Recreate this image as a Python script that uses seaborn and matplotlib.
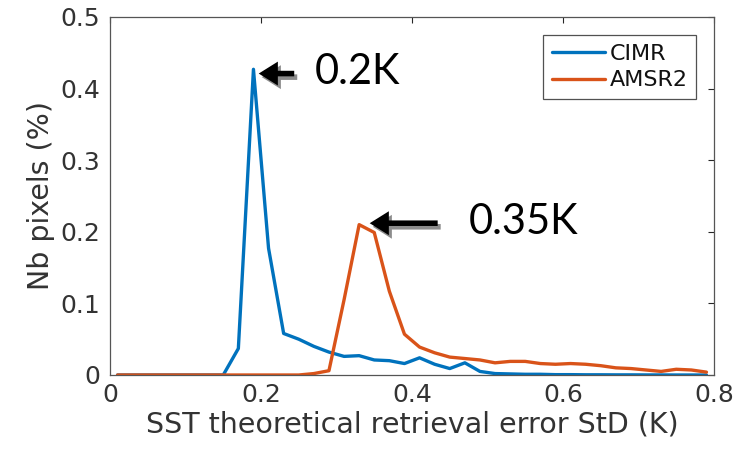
import matplotlib
matplotlib.use("Agg")
import matplotlib.pyplot as plt
import seaborn as sns
import pandas as pd

# ---- data ----
x_vals = [0.01, 0.03, 0.05, 0.07, 0.09, 0.11, 0.13, 0.15, 0.17, 0.19,
          0.21, 0.23, 0.25, 0.27, 0.29, 0.31, 0.33, 0.35, 0.37, 0.39,
          0.41, 0.43, 0.45, 0.47, 0.49, 0.51, 0.53, 0.55, 0.57, 0.59,
          0.61, 0.63, 0.65, 0.67, 0.69, 0.71, 0.73, 0.75, 0.77, 0.79]
cimr = [0, 0, 0, 0, 0, 0, 0, 0, 0.037, 0.427,
        0.177, 0.058, 0.050, 0.040, 0.032, 0.026, 0.027, 0.021, 0.020, 0.016,
        0.024, 0.015, 0.009, 0.017, 0.005, 0.002, 0.0015, 0.001, 0.001, 0.0005,
        0.0005, 0.0003, 0.0003, 0.0002, 0.0002, 0.0001, 0.0001, 0, 0, 0]
amsr2 = [0, 0, 0, 0, 0, 0, 0, 0, 0, 0,
         0, 0, 0, 0.002, 0.006, 0.105, 0.210, 0.199, 0.117, 0.057,
         0.039, 0.031, 0.025, 0.023, 0.021, 0.017, 0.019, 0.019, 0.016, 0.015,
         0.016, 0.015, 0.013, 0.010, 0.009, 0.007, 0.005, 0.008, 0.007, 0.004]
series_names = ["CIMR", "AMSR2"]
series_colors = ["#0072BD", "#D95319"]
x_ticks = [0, 0.2, 0.4, 0.6, 0.8]
x_tick_labels = ["0", "0.2", "0.4", "0.6", "0.8"]
y_ticks = [0, 0.1, 0.2, 0.3, 0.4, 0.5]
y_tick_labels = ["0", "0.1", "0.2", "0.3", "0.4", "0.5"]
x_label = "SST theoretical retrieval error StD (K)"
y_label = "Nb pixels (%)"
annotations = [("0.2K", 0.19, 0.427), ("0.35K", 0.33, 0.210)]

df = pd.DataFrame({
    "x": x_vals * 2,
    "y": cimr + amsr2,
    "series": [series_names[0]] * len(x_vals) + [series_names[1]] * len(x_vals),
})

sns.set_style("white")
plt.rcParams["font.family"] = ["DejaVu Sans"]
axis_grey = "#262626"

fig = plt.figure(figsize=(7.45, 4.51), dpi=100)
ax = fig.add_axes([110 / 745, 1 - 375 / 451, 604 / 745, 358 / 451])

sns.lineplot(data=df, x="x", y="y", hue="series", palette=series_colors,
             hue_order=series_names, linewidth=2.4, ax=ax, legend=True)

ax.set_xlim(0, 0.8)
ax.set_ylim(0, 0.5)
ax.set_xticks(x_ticks)
ax.set_xticklabels(x_tick_labels)
ax.set_yticks(y_ticks)
ax.set_yticklabels(y_tick_labels)
ax.tick_params(direction="in", length=4, width=0.8, colors=axis_grey,
               labelsize=18, top=True, right=True)
ax.tick_params(axis="x", pad=6)
ax.tick_params(axis="y", pad=7)
for lab in ax.get_xticklabels() + ax.get_yticklabels():
    lab.set_color("#333333")
for s in ax.spines.values():
    s.set_visible(True)
    s.set_color("#555555")
    s.set_linewidth(0.9)
ax.set_xlabel(x_label, fontsize=20.5, color="#333333", labelpad=2)
ax.set_ylabel(y_label, fontsize=20.5, color="#333333", labelpad=4)

leg = ax.legend(loc="upper right", fontsize=16, frameon=True, fancybox=False,
                handlelength=2.4, handletextpad=0.2, borderpad=0.4,
                labelspacing=0.3, borderaxespad=0.8)
leg.get_frame().set_edgecolor(axis_grey)
leg.get_frame().set_linewidth(0.9)
for t in leg.get_texts():
    t.set_color("#111111")
for h in leg.get_lines():
    h.set_linewidth(2.4)

# annotations: arrow (with grey shadow) + label
arrow_specs = [
    # (tip_x, tip_y, tail_x, text_x)
    (0.197, 0.421, 0.244, 0.271),
    (0.344, 0.212, 0.434, 0.475),
]
for (label, px, py), (tx, ty, tail_x, text_x) in zip(annotations, arrow_specs):
    for dx, dy, col, z in [(0.004, -0.005, "#8c8c8c", 4), (0, 0, "black", 5)]:
        ax.annotate("", xy=(tx + dx, ty + dy), xytext=(tail_x + dx, ty + dy),
                    arrowprops=dict(arrowstyle="-|>,head_length=0.8,head_width=0.5",
                                    lw=4, color=col, shrinkA=0, shrinkB=0,
                                    joinstyle="miter", capstyle="butt"),
                    zorder=z)
    ax.text(text_x, ty + 0.002, label, fontsize=30, family=["Lato", "DejaVu Sans"],
            color="black", va="center", ha="left")

fig.savefig("out.png", dpi=100)
